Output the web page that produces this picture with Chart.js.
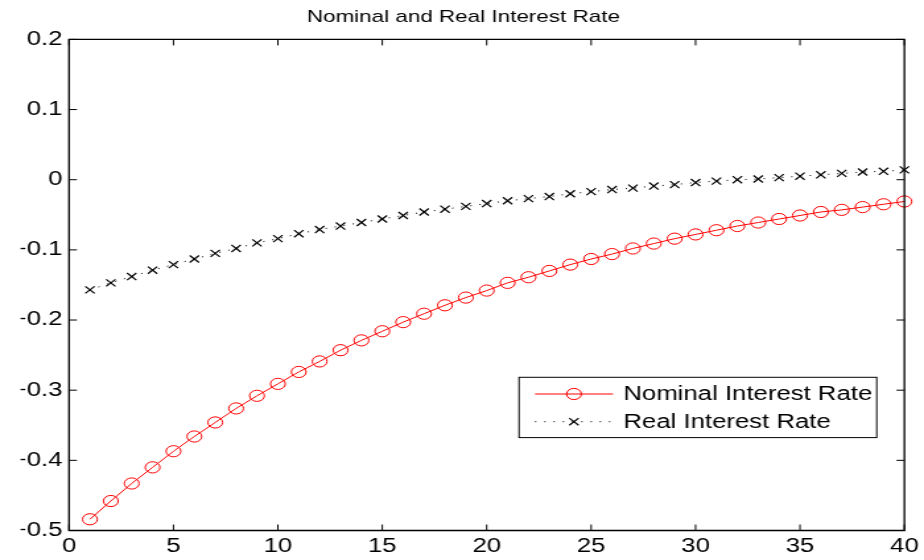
<!DOCTYPE html>
<html>
<head>
<meta charset="utf-8">
<script src="https://cdn.jsdelivr.net/npm/chart.js@4/dist/chart.umd.min.js"></script>
<style>
  html, body { margin: 0; padding: 0; background: #fff; overflow: hidden; }
  #wrap { width: 700px; height: 560px; transform: scale(1.32, 1); transform-origin: 0 0; }
  canvas { display: block; }
</style>
</head>
<body>
<div id="wrap"><canvas id="c" width="700" height="560"></canvas></div>
<script>
// ---- data ----
const periods = [1,2,3,4,5,6,7,8,9,10,11,12,13,14,15,16,17,18,19,20,21,22,23,24,25,26,27,28,29,30,31,32,33,34,35,36,37,38,39,40];
const nominalRate = [-0.484,-0.458,-0.433,-0.410,-0.387,-0.366,-0.346,-0.326,-0.308,-0.291,
                     -0.274,-0.259,-0.243,-0.229,-0.216,-0.203,-0.191,-0.179,-0.168,-0.158,
                     -0.147,-0.139,-0.130,-0.121,-0.113,-0.106,-0.098,-0.091,-0.084,-0.078,
                     -0.072,-0.066,-0.061,-0.056,-0.051,-0.046,-0.043,-0.039,-0.035,-0.031];
const realRate = [-0.157,-0.147,-0.138,-0.129,-0.121,-0.113,-0.105,-0.098,-0.090,-0.084,
                  -0.077,-0.071,-0.066,-0.061,-0.056,-0.051,-0.046,-0.042,-0.038,-0.034,
                  -0.030,-0.027,-0.024,-0.020,-0.017,-0.014,-0.012,-0.009,-0.007,-0.004,
                  -0.002,0.000,0.001,0.003,0.005,0.007,0.009,0.011,0.012,0.014];
const xTickValues = [0,5,10,15,20,25,30,35,40];
const yTickValues = [-0.5,-0.4,-0.3,-0.2,-0.1,0,0.1,0.2];
const titleText = 'Nominal and Real Interest Rate';
const seriesNames = ['Nominal Interest Rate', 'Real Interest Rate'];

const FONT = '"Liberation Sans", Arial, sans-serif';
const TICK_LEN = 6;

function fmtY(v) {
  if (Math.abs(v) < 1e-9) return '0';
  return (v < 0 ? '\u2212' : '') + Math.abs(v).toFixed(1);
}

const framePlugin = {
  id: 'frame',
  afterDraw(chart) {
    const ctx = chart.ctx, a = chart.chartArea;
    const xs = chart.scales.x, ys = chart.scales.y;
    ctx.save();
    ctx.strokeStyle = '#000';
    ctx.lineWidth = 1.3;
    ctx.beginPath();
    ctx.rect(a.left, a.top, a.right - a.left, a.bottom - a.top);
    ctx.stroke();
    ctx.lineWidth = 1;
    ctx.beginPath();
    xTickValues.forEach(v => {
      const px = xs.getPixelForValue(v);
      ctx.moveTo(px, a.bottom); ctx.lineTo(px, a.bottom - TICK_LEN);
      ctx.moveTo(px, a.top); ctx.lineTo(px, a.top + TICK_LEN);
    });
    yTickValues.forEach(v => {
      const py = ys.getPixelForValue(v);
      ctx.moveTo(a.left, py); ctx.lineTo(a.left + TICK_LEN, py);
      ctx.moveTo(a.right, py); ctx.lineTo(a.right - TICK_LEN, py);
    });
    ctx.stroke();

    // legend box (inside the axes, like MATLAB)
    const bx = 393.2, by = 377.3, bw = 271, bh = 60.3;
    ctx.fillStyle = '#fff';
    ctx.fillRect(bx, by, bw, bh);
    ctx.lineWidth = 1;
    ctx.strokeStyle = '#000';
    ctx.strokeRect(bx, by, bw, bh);
    const ds = chart.data.datasets;
    const rows = [by + 16.7, by + 44.4];
    const lx0 = 405.3, lx1 = 464.4, mx = 434.8, tx = 472.2;
    ds.forEach((d, i) => {
      const y = rows[i];
      ctx.save();
      ctx.strokeStyle = d.borderColor;
      ctx.lineWidth = d.borderWidth;
      ctx.setLineDash(d.borderDash || []);
      ctx.beginPath(); ctx.moveTo(lx0, y); ctx.lineTo(lx1, y); ctx.stroke();
      ctx.setLineDash([]);
      ctx.lineWidth = d.pointBorderWidth;
      ctx.strokeStyle = d.pointBorderColor;
      ctx.beginPath();
      if (d.pointStyle === 'circle') {
        ctx.arc(mx, y, d.pointRadius, 0, Math.PI * 2);
      } else {
        const r = d.pointRadius * Math.SQRT1_2;
        ctx.moveTo(mx - r, y - r); ctx.lineTo(mx + r, y + r);
        ctx.moveTo(mx - r, y + r); ctx.lineTo(mx + r, y - r);
      }
      ctx.stroke();
      ctx.restore();
      ctx.fillStyle = '#000';
      ctx.font = '19.5px ' + FONT;
      ctx.textBaseline = 'middle';
      ctx.textAlign = 'left';
      ctx.fillText(d.label, tx, y + 1);
    });
    ctx.restore();
  }
};

new Chart(document.getElementById('c'), {
  type: 'line',
  data: {
    datasets: [
      {
        label: seriesNames[0],
        data: periods.map((p, i) => ({ x: p, y: nominalRate[i] })),
        borderColor: 'rgb(255,0,0)',
        borderWidth: 1,
        pointStyle: 'circle',
        pointRadius: 5.6,
        pointBorderWidth: 1,
        pointBorderColor: 'rgb(255,0,0)',
        pointBackgroundColor: 'rgba(0,0,0,0)',
        tension: 0,
        clip: false
      },
      {
        label: seriesNames[1],
        data: periods.map((p, i) => ({ x: p, y: realRate[i] })),
        borderColor: '#000',
        borderWidth: 1,
        borderDash: [1, 6],
        pointStyle: 'crossRot',
        pointRadius: 5,
        pointBorderWidth: 1.2,
        pointBorderColor: '#000',
        pointBackgroundColor: '#000',
        tension: 0,
        clip: false
      }
    ]
  },
  options: {
    responsive: false,
    animation: false,
    devicePixelRatio: 1,
    layout: { padding: { left: 15.6, right: 13.6, top: 0, bottom: 0 } },
    plugins: {
      legend: { display: false },
      tooltip: { enabled: false },
      title: {
        display: true,
        text: titleText,
        color: '#000',
        font: { family: FONT, size: 17, weight: 'normal' },
        padding: { top: 7, bottom: 12 }
      }
    },
    scales: {
      x: {
        type: 'linear',
        min: 0, max: 40,
        afterBuildTicks: s => { s.ticks = xTickValues.map(v => ({ value: v })); },
        afterFit: s => { s.height = 29.5; },
        grid: { display: false, drawTicks: false },
        border: { display: false },
        ticks: { color: '#000', font: { family: FONT, size: 19.5 }, padding: 4, maxRotation: 0, autoSkip: false }
      },
      y: {
        type: 'linear',
        min: -0.5, max: 0.2,
        afterBuildTicks: s => { s.ticks = yTickValues.map(v => ({ value: v })); },
        afterFit: s => { s.width = 36.7; },
        grid: { display: false, drawTicks: false },
        border: { display: false },
        ticks: { color: '#000', font: { family: FONT, size: 19.5 }, padding: 5, autoSkip: false, callback: v => fmtY(v) }
      }
    }
  },
  plugins: [framePlugin]
});
</script>
</body>
</html>
